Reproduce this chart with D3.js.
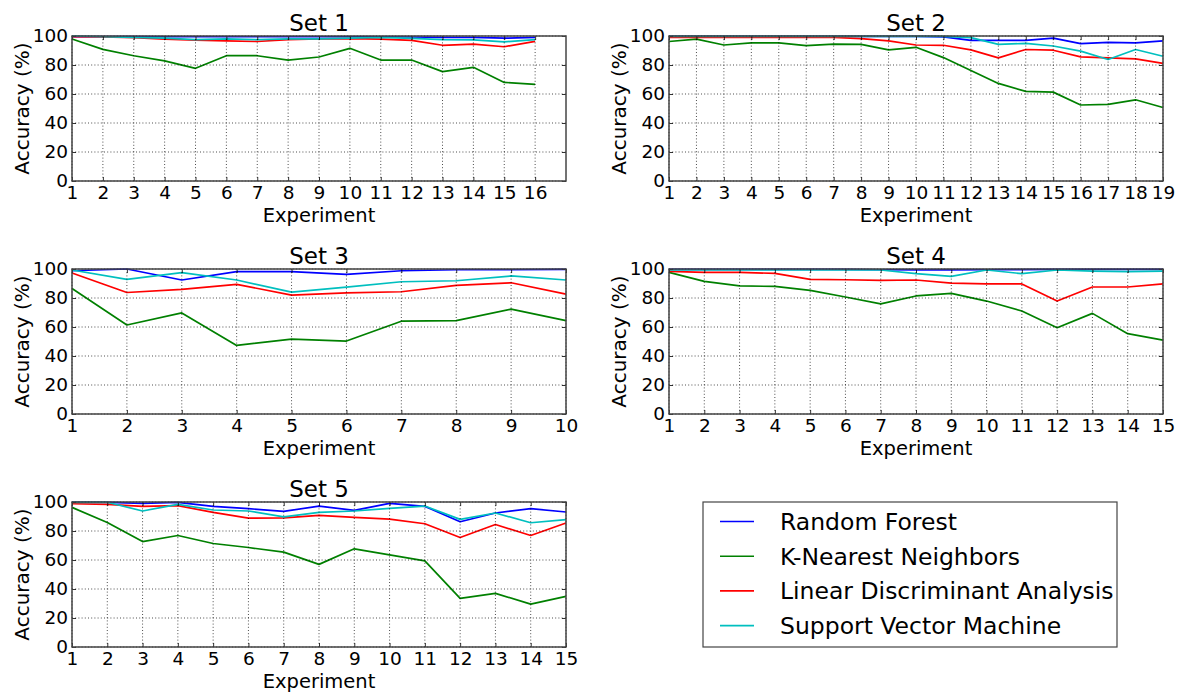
<!DOCTYPE html>
<html>
<head>
<meta charset="utf-8">
<script src="https://cdn.jsdelivr.net/npm/d3@7"></script>
<style>
  body { margin: 0; background: #fff; }
  text { font-family: "DejaVu Sans", sans-serif; fill: #000; }
</style>
</head>
<body>
<svg id="chart" width="1181" height="694"></svg>
<script>
// ---- data (accuracy %) ----
const methods = ["Random Forest", "K-Nearest Neighbors", "Linear Discriminant Analysis", "Support Vector Machine"];
const methodColors = ["#0000ff", "#008000", "#ff0000", "#00bfbf"];
const setTitles = ["Set 1", "Set 2", "Set 3", "Set 4", "Set 5"];
const xLimits = [17, 19, 10, 15, 15];
const yTicks = [0, 20, 40, 60, 80, 100];

const set1_rf  = [99.6, 99.6, 99.6, 99.5, 99.5, 99.5, 99.5, 99.5, 99.5, 99.5, 99.5, 99.3, 99, 99, 98.5, 99];
const set1_knn = [97.9, 90.8, 86.4, 82.8, 77.7, 86.4, 86.4, 83.4, 85.5, 91.5, 83.4, 83.4, 75.4, 78.4, 68, 66.7];
const set1_lda = [99.5, 99.3, 98.8, 97.8, 97.2, 96.6, 96.2, 97.5, 98, 98.2, 97.8, 97, 93.6, 94.4, 92.6, 96.3];
const set1_svm = [100, 99.5, 99, 98.5, 97.5, 98, 97.5, 98, 98, 98.5, 99, 98.3, 97.5, 97.3, 96, 97.5];

const set2_rf  = [99.8, 99.8, 99.8, 99.8, 99.8, 99.8, 99.8, 99.8, 99.8, 99.8, 99.4, 97, 97, 97, 98.5, 94.7, 95.6, 95.3, 96.7];
const set2_knn = [96.2, 97.8, 93.8, 95.3, 95.3, 93.3, 94.4, 94.2, 90.4, 92.2, 85.1, 76.2, 67.3, 61.8, 61.3, 52.4, 52.9, 56, 50.7];
const set2_lda = [99, 99, 99, 99, 99, 99, 99, 98.2, 96.7, 93.8, 93.6, 90.4, 84.9, 90.7, 90.2, 85.6, 84.9, 84.2, 81.1];
const set2_svm = [99.8, 99.8, 99.8, 99.8, 99.8, 99.8, 99.8, 99.8, 99.8, 99.8, 99.8, 98.9, 94.2, 94.9, 93.1, 89.6, 83.8, 90.7, 86];

const set3_rf  = [98.8, 100, 92.4, 98.2, 98.2, 96.3, 98.8, 99.5, 99.5, 99.8];
const set3_knn = [86.6, 61.4, 69.7, 47.3, 51.7, 50.3, 64, 64.4, 72.3, 64.4];
const set3_lda = [97.2, 83.8, 85.9, 89.4, 82, 83.6, 84.3, 88.7, 90.5, 82.7];
const set3_svm = [99.3, 92.8, 97.5, 92.4, 84.1, 87.5, 91.2, 91.9, 95.2, 92.4];

const set4_rf  = [99.8, 99.8, 99.8, 99.8, 99.8, 99.8, 99.5, 99.4, 99.4, 99.5, 99.6, 99.8, 99.8, 99.8, 99.8];
const set4_knn = [97.7, 91.5, 88.3, 88, 85.3, 80.7, 75.9, 81.4, 83.2, 77.9, 71, 59.5, 69.4, 55.4, 51];
const set4_lda = [98.4, 97.7, 97.7, 97, 92.9, 92.6, 92.2, 92.4, 90.3, 89.7, 89.7, 77.9, 87.6, 87.6, 89.7];
const set4_svm = [99.3, 99.3, 99.3, 99.3, 99.3, 99.3, 99.3, 96.8, 94.9, 99.3, 96.8, 99.3, 98.6, 98.2, 98.6];

const set5_rf  = [99.8, 99.8, 99, 99.8, 97, 95.4, 93.5, 97.2, 94.2, 99, 97, 86.4, 92.4, 95.4, 93.1];
const set5_knn = [96.3, 85.9, 72.7, 76.9, 71.4, 68.6, 65.4, 57, 67.7, 63.5, 59.4, 33.5, 37, 29.6, 34.9];
const set5_lda = [98.8, 98.4, 97, 97.5, 92.8, 88.9, 89.1, 90.8, 89.4, 88.2, 85, 75.5, 84.5, 76.9, 85.5];
const set5_svm = [99.8, 99.8, 93.8, 98.4, 94.5, 93.8, 89.8, 92.8, 93.8, 95.6, 97.2, 88, 92.4, 85.7, 87.8];

const sets = [
  [set1_rf, set1_knn, set1_lda, set1_svm],
  [set2_rf, set2_knn, set2_lda, set2_svm],
  [set3_rf, set3_knn, set3_lda, set3_svm],
  [set4_rf, set4_knn, set4_lda, set4_svm],
  [set5_rf, set5_knn, set5_lda, set5_svm],
];

// ---- layout ----
const W = 494, H = 145;
const panelPos = [
  {left: 72, top: 36},
  {left: 669, top: 36},
  {left: 72, top: 269},
  {left: 669, top: 269},
  {left: 72, top: 502},
];
const legendBox = {x: 703, y: 502, w: 414, h: 145};

const svg = d3.select("#chart");

function draw_panel(i){
  const {left, top} = panelPos[i];
  const data = sets[i];
  const n = data[0].length;
  const xTickVals = d3.range(1, n + 1);

  const x = d3.scaleLinear().domain([1, xLimits[i]]).range([0, W]);
  const y = d3.scaleLinear().domain([0, 100]).range([H, 0]);

  const g = svg.append("g").attr("transform", `translate(${left},${top})`);

  // series lines
  const line = d3.line().x((d, k) => x(k + 1)).y(d => y(d));
  data.forEach((vals, m) => {
    g.append("path")
      .datum(vals)
      .attr("d", line)
      .attr("fill", "none")
      .attr("stroke", methodColors[m])
      .attr("stroke-width", 1.7)
      .attr("stroke-linejoin", "round");
  });

  // dotted grid (drawn above the lines, like classic matplotlib)
  const grid = g.append("g")
    .attr("stroke", "#000")
    .attr("stroke-width", 0.7)
    .attr("stroke-dasharray", "1,2.2");
  xTickVals.forEach(v => {
    grid.append("line").attr("x1", x(v)).attr("x2", x(v)).attr("y1", 0).attr("y2", H);
  });
  yTicks.forEach(v => {
    grid.append("line").attr("x1", 0).attr("x2", W).attr("y1", y(v)).attr("y2", y(v));
  });

  // axes: labels outside, ticks pointing inward
  const xAxis = g.append("g")
    .attr("transform", `translate(0,${H})`)
    .call(d3.axisBottom(x).tickValues(xTickVals).tickFormat(d3.format("d")).tickSize(-4).tickPadding(5));
  const yAxis = g.append("g")
    .call(d3.axisLeft(y).tickValues(yTicks).tickSize(-4).tickPadding(4));
  g.append("g")
    .call(d3.axisTop(x).tickValues(xTickVals).tickSize(-4).tickFormat(""));
  g.append("g")
    .attr("transform", `translate(${W},0)`)
    .call(d3.axisRight(y).tickValues(yTicks).tickSize(-4).tickFormat(""));

  g.selectAll(".domain").remove();
  g.selectAll(".tick line").attr("stroke", "#000").attr("stroke-width", 0.8);
  [xAxis, yAxis].forEach(a => a.selectAll("text")
    .style("font-size", "18.5px")
    .style("font-family", "DejaVu Sans"));

  // frame
  g.append("rect")
    .attr("width", W).attr("height", H)
    .attr("fill", "none")
    .attr("stroke", "#444")
    .attr("stroke-width", 1.5);

  // title and axis labels
  g.append("text")
    .attr("x", W / 2).attr("y", -5)
    .attr("text-anchor", "middle")
    .style("font-size", "23px")
    .text(setTitles[i]);

  g.append("text")
    .attr("x", W / 2).attr("y", H + 41)
    .attr("text-anchor", "middle")
    .style("font-size", "19.5px")
    .text("Experiment");

  g.append("text")
    .attr("transform", `translate(${-43},${H / 2}) rotate(-90)`)
    .attr("text-anchor", "middle")
    .style("font-size", "20px")
    .text("Accuracy (%)");
}

sets.forEach((d, i) => draw_panel(i));

// ---- legend ----
const lg = svg.append("g").attr("transform", `translate(${legendBox.x},${legendBox.y})`);
lg.append("rect")
  .attr("width", legendBox.w).attr("height", legendBox.h)
  .attr("fill", "#fff")
  .attr("stroke", "#444")
  .attr("stroke-width", 1.2);

methods.forEach((name, m) => {
  const cy = 19.5 + m * 34.7;
  lg.append("line")
    .attr("x1", 17).attr("x2", 51)
    .attr("y1", cy).attr("y2", cy)
    .attr("stroke", methodColors[m])
    .attr("stroke-width", 1.6);
  lg.append("text")
    .attr("x", 77).attr("y", cy)
    .attr("dy", "0.36em")
    .style("font-size", "23.5px")
    .text(name);
});
</script>
</body>
</html>
